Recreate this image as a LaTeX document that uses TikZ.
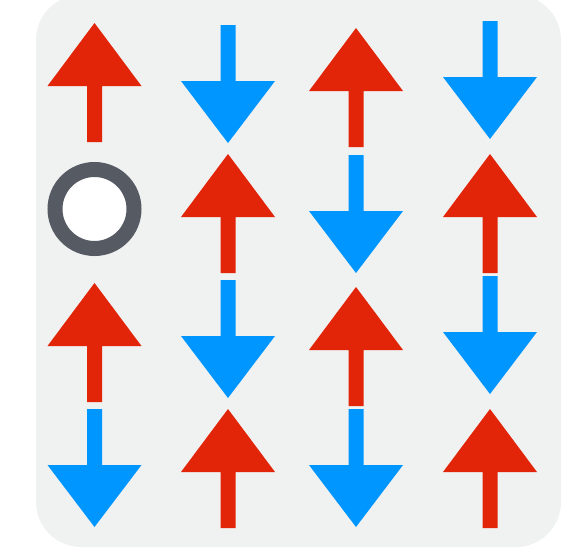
\documentclass[tikz,border=0pt]{standalone}
\definecolor{spinred}{RGB}{226,36,8}
\definecolor{spinblue}{RGB}{0,150,255}
\definecolor{panel}{RGB}{240,241,241}
\definecolor{holegray}{RGB}{85,90,99}
\newcommand\spinup[2]{% x, tip y
  \fill[spinred] (#1,#2) -- ++(47,63) -- ++(-39.5,0) -- ++(0,56) -- ++(-15,0) -- ++(0,-56) -- ++(-39.5,0) -- cycle;}
\newcommand\spindown[2]{% x, top y
  \fill[spinblue] (#1-7.5,#2) -- ++(15,0) -- ++(0,56) -- ++(39.5,0) -- ++(-47,62) -- ++(-47,-62) -- ++(39.5,0) -- cycle;}
\begin{document}
\begin{tikzpicture}[x=1pt,y=-1pt]
\useasboundingbox (0,0) rectangle (573,549);
\clip (0,0) rectangle (573,549);
\fill[panel, rounded corners=45pt] (36,-5) rectangle (561,547);
% column 1
\spinup{94.5}{23}
\draw[holegray, line width=15pt, fill=white] (94.5,209) circle[radius=39.5pt];
\spinup{94.5}{283}
\spindown{94.5}{409}
% column 2
\spindown{228}{25}
\spinup{228}{154}
\spindown{228}{280}
\spinup{228}{409}
% column 3
\spinup{356}{28}
\spindown{356}{155}
\spinup{356}{287}
\spindown{356}{409}
% column 4
\spindown{490}{21}
\spinup{490}{154}
\spindown{490}{276}
\spinup{490}{409}
\end{tikzpicture}
\end{document}
